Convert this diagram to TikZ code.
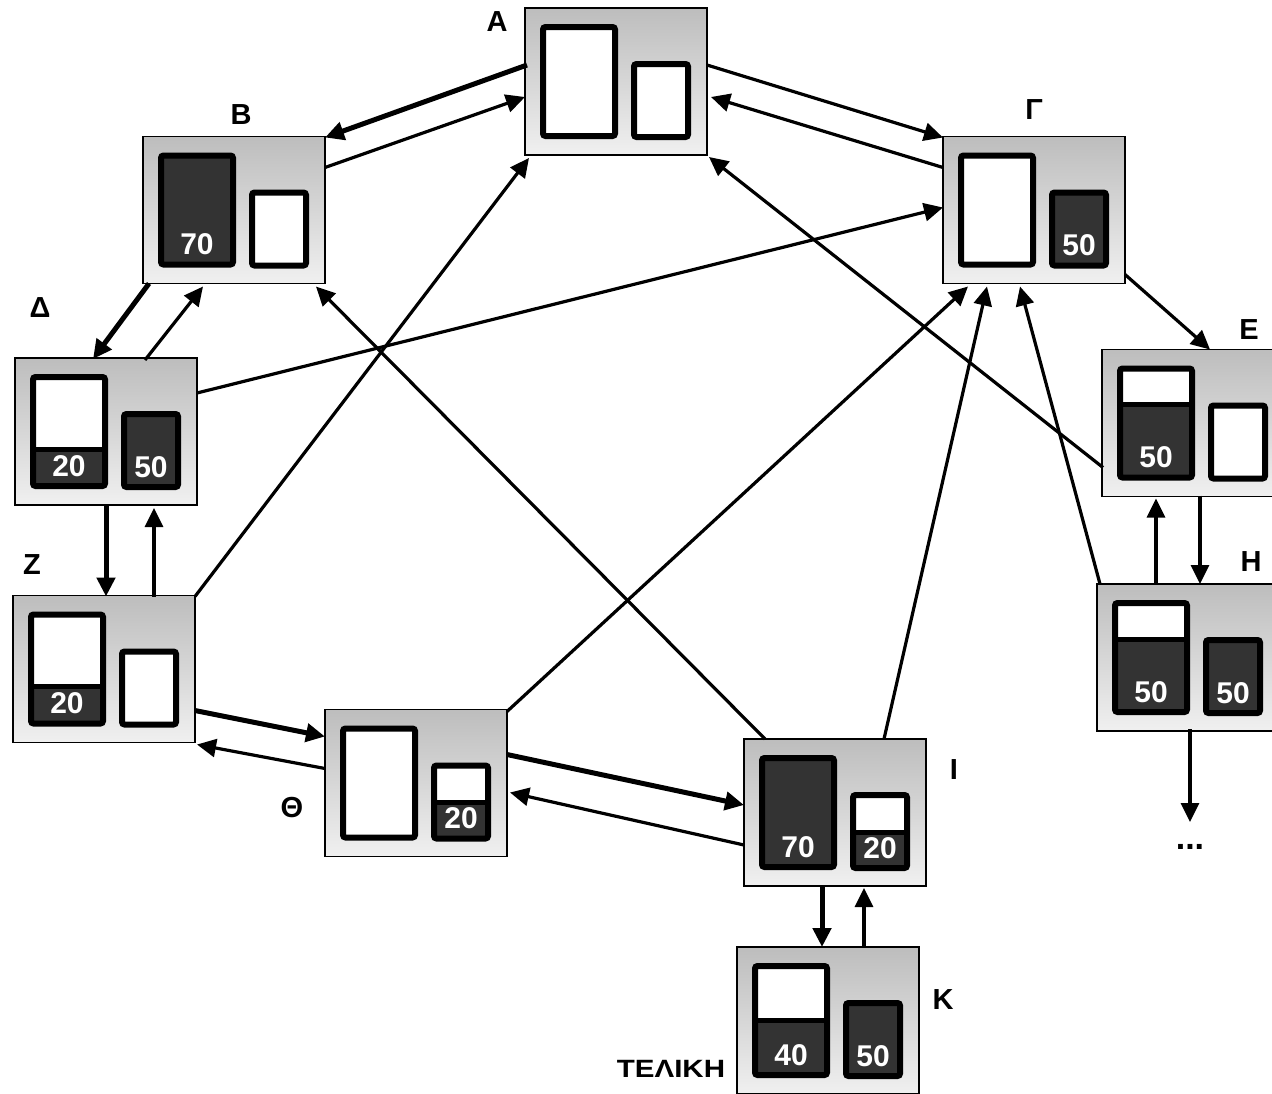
\documentclass[tikz,border=0pt]{standalone}
\usepackage{fontspec}
\setmainfont{Liberation Sans}
\usetikzlibrary{arrows.meta}
\definecolor{jugdark}{HTML}{333333}
\definecolor{boxtop}{HTML}{BDBDBD}
\definecolor{boxbot}{HTML}{F0F0F0}
\tikzset{
  state/.style={draw=black, line width=1.5pt, rectangle, outer sep=0pt, inner sep=0pt,
    minimum width=182pt, minimum height=147pt, top color=boxtop, bottom color=boxbot},
  numlbl/.style={text=white, font=\fontsize{30}{32}\selectfont\bfseries, inner sep=0pt},
  lbl/.style={text=black, font=\fontsize{29}{31}\selectfont\bfseries, inner sep=0pt},
  conn/.style={line width=3.2pt, -{Triangle[length=19pt,width=18pt]}},
  connbold/.style={line width=5pt, -{Triangle[length=19pt,width=18pt]}},
}
% #1 node, #2 x0, #3 y0, #4 x1, #5 y1 (outer edges, relative to node NW), #6 fill height (0 none, 999 full), #7 label
\newcommand\vessel[7]{%
\begin{scope}[shift={(#1.north west)}]
  \fill[white] (#2+3,#3+3) rectangle (#4-3,#5-3);
  \ifnum#6>0
    \ifnum#6>500
      \fill[jugdark] (#2+3,#3+3) rectangle (#4-3,#5-3);
    \else
      \fill[jugdark] (#2+3,#5-#6) rectangle (#4-3,#5-3);
      \draw[line width=5pt] (#2+3,#5-#6) -- (#4-3,#5-#6);
    \fi
  \fi
  \draw[line width=6pt, rounded corners=2.5pt] (#2+3,#3+3) rectangle (#4-3,#5-3);
  \node[numlbl] at ({(#2+#4)/2},#5-23) {#7};
\end{scope}}
\newcommand\bigjug[3]{\vessel{#1}{15}{16}{93}{131}{#2}{#3}}
\newcommand\smalljug[3]{\vessel{#1}{106}{53}{166}{132}{#2}{#3}}

\begin{document}
\begin{tikzpicture}[x=1pt,y=-1pt]
\clip (0,0) rectangle (1272,1093);
\fill[white] (0,0) rectangle (1272,1093);

% states (centers)
\node[state] (A)  at (616,81.5)  {};
\node[state] (B)  at (234,210)   {};
\node[state] (G)  at (1034,210)  {};
\node[state] (D)  at (106,431.5) {};
\node[state] (E)  at (1193,423)  {};
\node[state] (H)  at (1188,657.5){};
\node[state] (Z)  at (104,669)   {};
\node[state] (Th) at (416,783)   {};
\node[state] (I)  at (835,812.5) {};
\node[state] (K)  at (828,1020.5){};

% jugs
\bigjug{A}{0}{}      \smalljug{A}{0}{}
\bigjug{B}{999}{70}  \smalljug{B}{0}{}
\bigjug{G}{0}{}      \smalljug{G}{999}{50}
\bigjug{D}{40}{20}   \smalljug{D}{999}{50}
\bigjug{E}{76}{50}   \smalljug{E}{0}{}
\bigjug{H}{76}{50}   \smalljug{H}{999}{50}
\bigjug{Z}{40}{20}   \smalljug{Z}{0}{}
\bigjug{Th}{0}{}     \smalljug{Th}{39}{20}
\bigjug{I}{999}{70}  \smalljug{I}{39}{20}
\bigjug{K}{58}{40}   \smalljug{K}{999}{50}

% labels
\node[lbl] (lA) at (497,22)  {Α};
\node[lbl] (lB) at (241,115) {Β};
\node[lbl] (lG) at (1034,110){Γ};
\node[lbl] (lD) at (40,308)  {Δ};
\node[lbl] (lE) at (1249,330){Ε};
\node[lbl] (lZ) at (32,565)  {Ζ};
\node[lbl] (lH) at (1251,562){Η};
\node[lbl] (lT) at (292,808) {Θ};
\node[lbl] (lI) at (954,770) {Ι};
\node[lbl] (lK) at (943,1000){Κ};
\node[text=black, font=\fontsize{25}{27}\selectfont\bfseries, inner sep=0pt, xscale=1.18] (fin) at (671,1069) {ΤΕΛΙΚΗ};

% connectors
\draw[connbold] ([shift={(2,57)}]A.north west) -- ([shift={(182,1)}]B.north west);
\draw[conn] ([shift={(182,31)}]B.north west) -- ([shift={(0,89)}]A.north west);
\draw[conn] ([shift={(182,57)}]A.north west) -- ([shift={(0,1)}]G.north west);
\draw[conn] ([shift={(0,31)}]G.north west) -- ([shift={(186,89)}]A.north west);
\draw[conn] ([shift={(1,118)}]E.north west) -- ([shift={(184,149)}]A.north west);
\draw[conn] ([shift={(182,1)}]Z.north west) -- ([shift={(4,150)}]A.north west);
\draw[conn] ([shift={(182,35)}]D.north west) -- ([shift={(0,71)}]G.north west);
\draw[conn] ([shift={(21,0)}]I.north west) -- ([shift={(173,150)}]B.north west);
\draw[conn] ([shift={(182,2)}]Th.north west) -- ([shift={(25,150)}]G.north west);
\draw[conn] ([shift={(140,0)}]I.north west) -- ([shift={(44,150)}]G.north west);
\draw[conn] ([shift={(3,0)}]H.north west) -- ([shift={(77,150)}]G.north west);
\draw[conn] ([shift={(182,138)}]G.north west) -- ([shift={(108,0)}]E.north west);
\draw[connbold] ([shift={(6,147)}]B.north west) -- ([shift={(78,1)}]D.north west);
\draw[conn] ([shift={(130,2)}]D.north west) -- ([shift={(60,150)}]B.north west);
\draw[connbold] ([shift={(91,147)}]D.north west) -- ([shift={(93,1)}]Z.north west);
\draw[conn] ([shift={(141,1)}]Z.north west) -- ([shift={(139,150)}]D.north west);
\draw[connbold] ([shift={(182,115)}]Z.north west) -- ([shift={(0,27)}]Th.north west);
\draw[conn] ([shift={(0,59)}]Th.north west) -- ([shift={(184,149)}]Z.north west);
\draw[connbold] ([shift={(182,45)}]Th.north west) -- ([shift={(0,66)}]I.north west);
\draw[conn] ([shift={(0,106)}]I.north west) -- ([shift={(185,83)}]Th.north west);
\draw[connbold] ([shift={(78,148)}]I.north west) -- ([shift={(85,0)}]K.north west);
\draw[conn] ([shift={(127,0)}]K.north west) -- ([shift={(120,149)}]I.north west);
\draw[conn] ([shift={(59,0)}]H.north west) -- ([shift={(54,149)}]E.north west);
\draw[conn] ([shift={(98,146)}]E.north west) -- ([shift={(103,0)}]H.north west);
\coordinate (more) at (1190,822);
\draw[conn] ([shift={(93,145)}]H.north west) -- (more);
\node[text=black, font=\fontsize{34}{36}\selectfont\bfseries, inner sep=0pt] (dots) at (1190,847) {...};
\end{tikzpicture}
\end{document}
